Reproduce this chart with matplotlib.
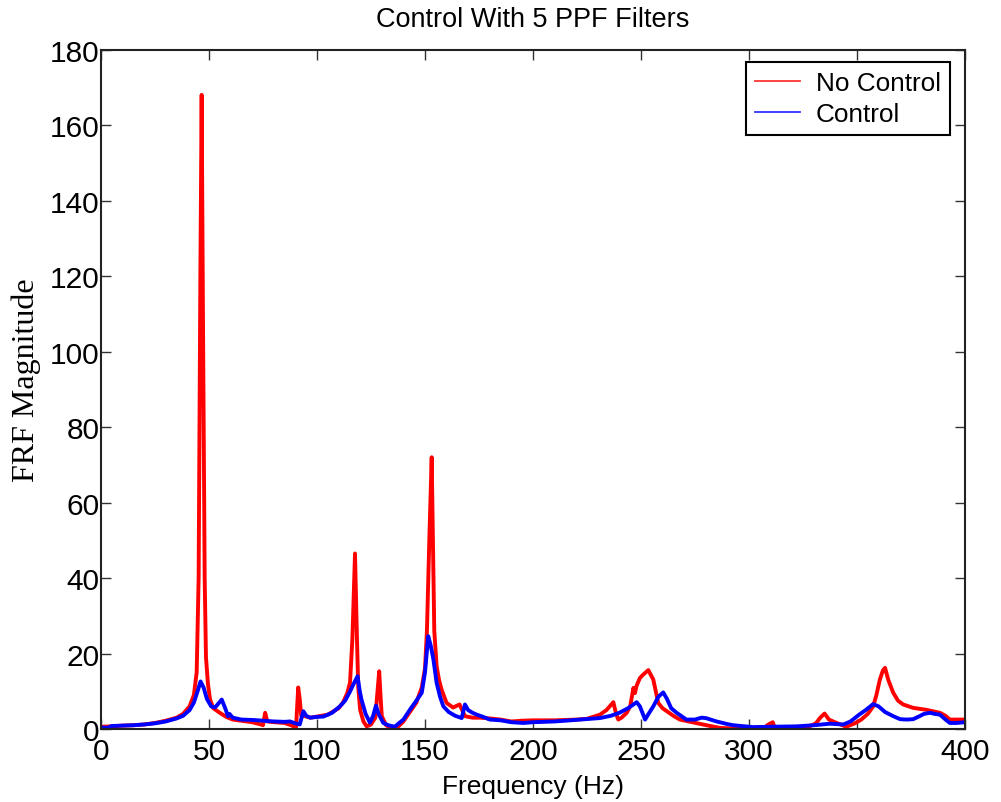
import matplotlib
matplotlib.use("Agg")
import matplotlib.pyplot as plt
from matplotlib.lines import Line2D

# ---- data ----
freq_nc = [0, 5, 10, 15, 20, 25, 30, 35, 38, 41, 43, 44.3, 45.2, 46, 46.6, 47.2, 48,
           48.6, 49.5, 50.5, 52, 55, 58, 61, 65, 70, 74, 75, 76, 77, 80, 85, 88, 90.3,
           91.3, 92, 92.7, 94.4, 97, 100, 105, 110, 112, 114, 115.3, 116.4, 117.6,
           118.5, 119.1, 120, 121.5, 123, 125, 127, 128, 128.8, 129.5, 130, 132, 134,
           137, 140, 143, 146, 148.5, 150, 150.9, 152, 153.1, 154.3, 155.4, 156.5,
           157.7, 160, 163, 166, 168.5, 172, 175.5, 180, 185, 190, 195, 200, 205, 210,
           215, 220, 225, 231, 234, 237.2, 238.5, 239.5, 241, 243.4, 245, 246.5, 247.2,
           248, 249.5, 251, 253.4, 255.7, 258, 260, 262, 265, 268, 272, 277, 282,
           286.6, 290, 295, 300.5, 305, 307, 309, 311, 312, 316, 322, 328, 331, 333,
           335, 337, 340.6, 345, 349, 352, 355, 357.5, 359, 360.6, 362, 363, 364.5,
           366.8, 369, 371.4, 376, 382, 388.4, 391, 393, 396, 400]
mag_nc = [0.6, 0.7, 0.9, 1.0, 1.2, 1.6, 2.2, 3.0, 4.0, 6.0, 9.0, 15, 40, 120, 168, 110, 40,
          19, 12, 7.8, 5.5, 4.3, 3.2, 2.5, 2.2, 1.8, 1.2, 1.0, 4.3, 2.0, 1.8, 1.6, 1.0, 0.4,
          11, 8, 3.5, 3.4, 3.0, 3.3, 3.8, 5.5, 7, 9.5, 12.3, 24, 46.5,
          24, 11, 5.0, 2.0, 0.7, 1.2, 3.0, 10, 15.3, 8, 3.4, 1.0, 0.3,
          0.3, 2.0, 4.5, 7.0, 11, 16, 26, 50, 72, 26, 16.6, 13,
          10.4, 6.9, 5.7, 6.5, 3.4, 3.0, 3.0, 2.8, 2.5, 2.0, 2.2, 2.3, 2.3, 2.3,
          2.4, 2.5, 2.7, 3.8, 5.0, 7.1, 4.0, 2.5, 3.0, 4.3, 6.0, 10.9, 9.5,
          11.5, 13.5, 14.4, 15.6, 13.1, 6.9, 5.5, 4.7, 3.5, 2.5, 2.0, 1.4, 0.8,
          0.3, 0.2, 0.1, 0.0, 0.5, 0.3, 1.2, 1.8, 0.2, 0.0, 0.3, 0.7, 1.5, 3.0,
          4.1, 2.5, 1.6, 0.6, 1.5, 2.5, 4.0, 6.0, 9.0, 13.1, 15.5, 16.2, 13,
          9.6, 7.5, 6.5, 5.6, 5.1, 4.3, 3.5, 2.5, 2.5, 2.5]

freq_c = [0, 3, 5, 10, 15, 20, 25, 30, 35, 38, 41, 43, 45, 46.1, 47.5, 49, 51, 52.8, 54,
          55.9, 57.5, 58.8, 59.5, 61, 65, 70, 75, 80, 85, 87.5, 90, 92, 93.7, 95, 96.8,
          100, 103, 107, 110.6, 113, 115, 117, 118.8, 119.8, 120.6, 122.5, 124.5, 126,
          127.3, 128.5, 130.7, 133, 136, 140, 143, 146, 148.5, 150, 151.5, 152.7,
          153.9, 155.4, 157, 158.5, 161, 164, 167, 168.5, 170, 172, 174, 177, 180, 185,
          190, 195.5, 200, 210, 215, 221.8, 231, 236, 240, 244, 248, 249.5, 251.9,
          253.5, 255.7, 258, 260.3, 262, 264, 266.5, 271, 275, 278, 280, 285, 290,
          292.7, 302, 310, 322, 330, 337.5, 343.7, 347, 351, 354, 357.5, 360, 363,
          366.8, 370, 373, 376, 379, 381, 383.8, 386, 388.4, 391, 393, 396, 400]
mag_c = [0.4, 0.3, 0.8, 0.9, 1.0, 1.2, 1.5, 2.0, 2.8, 3.5, 5.0, 7.0, 10.5, 12.6, 11, 8, 6.0, 5.7, 6.5,
         7.8, 5.5, 3.4, 4.0, 3.0, 2.5, 2.4, 2.2, 2.0, 1.9, 2.0, 1.5, 1.2, 4.7, 3.5, 3.0,
         3.2, 3.3, 4.3, 6.0, 7.5, 9.6, 12, 14, 10, 7.8, 4, 1.7, 3.5,
         6.2, 4, 1.6, 1.0, 0.6, 2.5, 5.1, 7.5, 9.6, 15, 24.6, 22,
         18.4, 12.2, 8.5, 6.0, 4.5, 3.5, 2.9, 6.5, 5, 4.3, 3.8, 3.2, 2.5, 2.3,
         1.8, 1.6, 1.8, 2.0, 2.2, 2.5, 2.9, 3.5, 4.3, 5.5, 7.1, 6.0, 2.5,
         4.0, 6.0, 8.5, 9.7, 8, 5.5, 4.3, 2.5, 2.5, 3.0, 2.9, 2.0, 1.3,
         1.0, 0.5, 0.6, 0.7, 1.0, 1.4, 1.2, 2.0, 3.8, 5.0, 6.6, 6.0, 4.5,
         3.4, 2.6, 2.5, 2.6, 3.4, 4.0, 4.3, 4.0, 3.8, 2.5, 1.6, 1.6, 1.8]

x_ticks = [0, 50, 100, 150, 200, 250, 300, 350, 400]
y_ticks = [0, 20, 40, 60, 80, 100, 120, 140, 160, 180]
series_labels = ["No Control", "Control"]
title_text = "Control With 5 PPF Filters"
xlabel_text = "Frequency (Hz)"
ylabel_text = "FRF Magnitude"

# ---- figure ----
fig = plt.figure(figsize=(10.01, 8.03), dpi=100)
ax = fig.add_axes([0.1009, 0.0909, 0.8631, 0.8461])

sans = ["Liberation Sans", "Arial", "DejaVu Sans"]
serif = ["Liberation Serif", "Times New Roman", "DejaVu Serif"]

ax.plot(freq_nc, mag_nc, color="#ff0000", lw=2.8, solid_joinstyle="round")
ax.plot(freq_c, mag_c, color="#0000ff", lw=2.8, solid_joinstyle="round")

ax.set_xlim(0, 400)
ax.set_ylim(0, 180)
ax.set_xticks(x_ticks)
ax.set_yticks(y_ticks)
ax.tick_params(direction="in", top=True, right=True, length=7, width=1,
               color="#333333", labelsize=21.5, pad=2)
ax.tick_params(axis="y", pad=1)
ax.tick_params(axis="x", pad=6)
for lab in ax.get_xticklabels() + ax.get_yticklabels():
    lab.set_family(sans)
for sp in ax.spines.values():
    sp.set_linewidth(1.5)
    sp.set_color("#222222")

ax.set_title(title_text, family=sans, fontsize=19.5, pad=17)
ax.set_xlabel(xlabel_text, family=sans, fontsize=19, labelpad=6)
ax.set_ylabel(ylabel_text, family=serif, fontsize=23)
ax.yaxis.set_label_coords(-0.069, 0.515)

handles = [Line2D([], [], color="#ff3333", lw=1.3),
           Line2D([], [], color="#3333ff", lw=1.3)]
leg = ax.legend(handles, series_labels, loc="upper right",
                bbox_to_anchor=(0.9826, 0.9814), prop={"family": sans, "size": 18.8},
                frameon=True, fancybox=False, framealpha=1, edgecolor="black",
                handlelength=1.72, handletextpad=0.62, borderpad=0.35,
                labelspacing=0.25, borderaxespad=0)
leg.get_frame().set_linewidth(1.5)

fig.savefig("out.png", dpi=100)
